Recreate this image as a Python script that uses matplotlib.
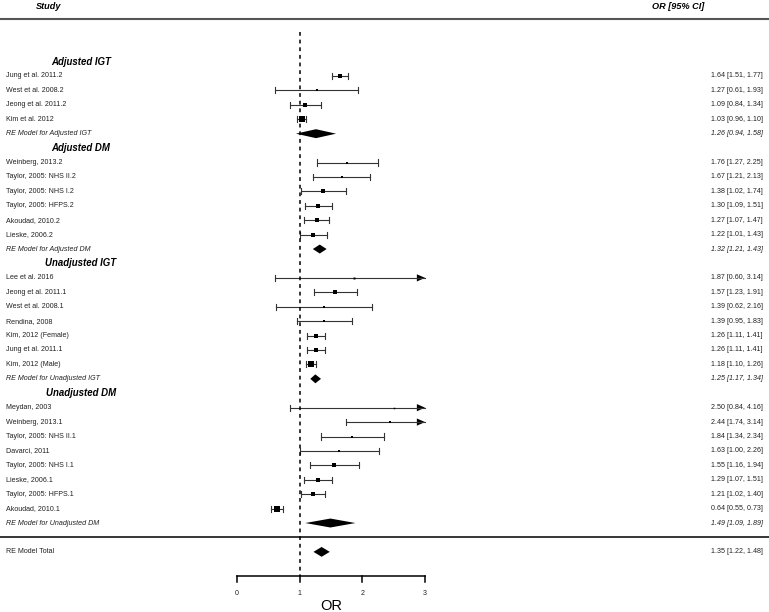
import matplotlib
matplotlib.use("Agg")
import matplotlib.pyplot as plt
import numpy as np

plt.rcParams['font.family'] = ['Liberation Sans', 'DejaVu Sans']

# forest plot data, OR with 95% CI, per subgroup
group_names = ["Adjusted IGT", "Adjusted DM", "Unadjusted IGT", "Unadjusted DM"]

adj_igt_studies = ["Jung et al. 2011.2", "West et al. 2008.2", "Jeong et al. 2011.2", "Kim et al. 2012"]
adj_igt_or = [1.64, 1.27, 1.09, 1.03]
adj_igt_lo = [1.51, 0.61, 0.84, 0.96]
adj_igt_hi = [1.77, 1.93, 1.34, 1.10]

adj_dm_studies = ["Weinberg, 2013.2", "Taylor, 2005: NHS II.2", "Taylor, 2005: NHS I.2",
                  "Taylor, 2005: HFPS.2", "Akoudad, 2010.2", "Lieske, 2006.2"]
adj_dm_or = [1.76, 1.67, 1.38, 1.30, 1.27, 1.22]
adj_dm_lo = [1.27, 1.21, 1.02, 1.09, 1.07, 1.01]
adj_dm_hi = [2.25, 2.13, 1.74, 1.51, 1.47, 1.43]

unadj_igt_studies = ["Lee et al. 2016", "Jeong et al. 2011.1", "West et al. 2008.1", "Rendina, 2008",
                     "Kim, 2012 (Female)", "Jung et al. 2011.1", "Kim, 2012 (Male)"]
unadj_igt_or = [1.87, 1.57, 1.39, 1.39, 1.26, 1.26, 1.18]
unadj_igt_lo = [0.60, 1.23, 0.62, 0.95, 1.11, 1.11, 1.10]
unadj_igt_hi = [3.14, 1.91, 2.16, 1.83, 1.41, 1.41, 1.26]

unadj_dm_studies = ["Meydan, 2003", "Weinberg, 2013.1", "Taylor, 2005: NHS II.1", "Davarci, 2011",
                    "Taylor, 2005: NHS I.1", "Lieske, 2006.1", "Taylor, 2005: HFPS.1", "Akoudad, 2010.1"]
unadj_dm_or = [2.50, 2.44, 1.84, 1.63, 1.55, 1.29, 1.21, 0.64]
unadj_dm_lo = [0.84, 1.74, 1.34, 1.00, 1.16, 1.07, 1.02, 0.55]
unadj_dm_hi = [4.16, 3.14, 2.34, 2.26, 1.94, 1.51, 1.40, 0.73]

# random-effects summaries per subgroup and overall
re_or = [1.26, 1.32, 1.25, 1.49]
re_lo = [0.94, 1.21, 1.17, 1.09]
re_hi = [1.58, 1.43, 1.34, 1.89]
total_or, total_lo, total_hi = 1.35, 1.22, 1.48

axis_ticks = [0, 1, 2, 3]

groups = [
    (adj_igt_studies, adj_igt_or, adj_igt_lo, adj_igt_hi),
    (adj_dm_studies, adj_dm_or, adj_dm_lo, adj_dm_hi),
    (unadj_igt_studies, unadj_igt_or, unadj_igt_lo, unadj_igt_hi),
    (unadj_dm_studies, unadj_dm_or, unadj_dm_lo, unadj_dm_hi),
]

# point size from precision (1 / CI width), like metafor's psize
all_w = np.concatenate([1 / (np.array(g[3]) - np.array(g[2])) for g in groups])
wmin, wmax = all_w.min(), all_w.max()

fig = plt.figure(figsize=(7.69, 6.12), dpi=100)
ax = fig.add_axes([0, 0, 1, 1])
ax.set_xlim(-3.782, 8.489)
ax.set_ylim(37.17, -5.27)
ax.axis('off')

x_label = -3.686   # left edge of study labels
x_head = -2.489    # centre of subgroup headings
x_right = 8.393    # right edge of OR column
xmax_plot = 3.0
fs = 5.15
cap = 0.21
txt_col = '#222222'


def fmt(o, l, h):
    return "%.2f [%.2f, %.2f]" % (o, l, h)


def diamond(y, o, l, h, half=0.31):
    ax.fill([l, o, h, o], [y, y - half, y, y + half], color='black', lw=0)


def ci_row(y, o, l, h):
    hi = min(h, xmax_plot)
    ax.plot([l, hi], [y, y], color='#333333', lw=0.8)
    ax.plot([l, l], [y - cap, y + cap], color='#333333', lw=0.8)
    if h > xmax_plot:
        ax.fill([xmax_plot - 0.13, xmax_plot, xmax_plot - 0.13],
                [y - 0.25, y, y + 0.25], color='black', lw=0)
    else:
        ax.plot([h, h], [y - cap, y + cap], color='#333333', lw=0.8)
    w = 1 / (h - l)
    side_px = 1.5 + 4.3 * np.sqrt((w - wmin) / (wmax - wmin))
    ax.plot(o, y, marker='s', color='black', ms=side_px / 1.39, mew=0, ls='none')


row = -1
for gi, (studies, ors, los, his) in enumerate(groups):
    ax.text(x_head, row, group_names[gi], ha='center', va='center',
            fontsize=6.9, fontweight='bold', fontstyle='italic', color='black')
    row += 1
    for s, o, l, h in zip(studies, ors, los, his):
        ax.text(x_label, row, s, ha='left', va='center', fontsize=fs, color=txt_col)
        ax.text(x_right, row, fmt(o, l, h), ha='right', va='center', fontsize=fs, color=txt_col)
        ci_row(row, o, l, h)
        row += 1
    ax.text(x_label, row, "RE Model for " + group_names[gi], ha='left', va='center',
            fontsize=fs, fontstyle='italic', color=txt_col)
    ax.text(x_right, row, fmt(re_or[gi], re_lo[gi], re_hi[gi]), ha='right', va='center',
            fontsize=fs, fontstyle='italic', color=txt_col)
    diamond(row, re_or[gi], re_lo[gi], re_hi[gi])
    row += 1

# separator and overall model
ax.plot([-3.782, 8.489], [row, row], color='black', lw=1.1)
row += 1
ax.text(x_label, row, "RE Model Total", ha='left', va='center', fontsize=fs, color=txt_col)
ax.text(x_right, row, fmt(total_or, total_lo, total_hi), ha='right', va='center',
        fontsize=fs, color=txt_col)
diamond(row, total_or, total_lo, total_hi, half=0.34)

# header
ax.plot([-3.782, 8.489], [-3.95, -3.95], color='#555555', lw=1.5)
ax.text(-3.0, -4.85, "Study", ha='center', va='center', fontsize=6.6,
        fontweight='bold', fontstyle='italic')
ax.text(7.037, -4.85, "OR [95% CI]", ha='center', va='center', fontsize=6.6,
        fontweight='bold', fontstyle='italic')

# reference line at OR = 1
axis_y = row + 1.66
ax.plot([1, 1], [-3.05, axis_y], color='black', lw=1.1, ls=(0, (2.5, 2.5)))

# x axis
ax.plot([axis_ticks[0], axis_ticks[-1]], [axis_y, axis_y], color='black', lw=1.1)
for t in axis_ticks:
    ax.plot([t, t], [axis_y, axis_y + 0.4], color='black', lw=1.1)
    ax.text(t, axis_y + 1.2, str(t), ha='center', va='center', fontsize=fs, color=txt_col)
ax.text(1.5, axis_y + 2.1, "OR", ha='center', va='center', fontsize=10.5)

fig.savefig("out.png", dpi=100)
